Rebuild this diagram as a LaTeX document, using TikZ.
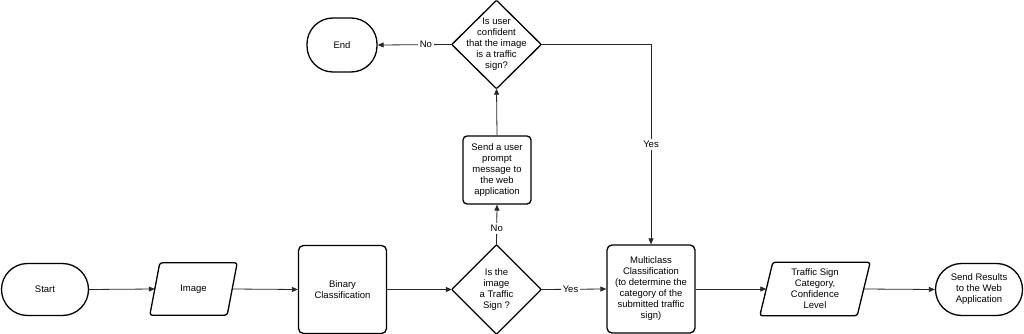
\documentclass[tikz,border=0pt]{standalone}
\usepackage{fontspec}
\setmainfont{Liberation Sans}
\usetikzlibrary{arrows.meta}
\begin{document}
\begin{tikzpicture}[x=1pt,y=1pt,
  font=\fontsize{9.5}{11}\selectfont,
  base/.style={align=center,inner sep=0pt},
  term/.style={base,draw,line width=1.3pt,rounded corners=26pt},
  proc/.style={base,draw,line width=1.3pt,rounded corners=5pt},
  ghost/.style={base},
  shp/.style={line width=1.3pt,line join=round,rounded corners=2.5pt},
  conn/.style={draw=black!85,line width=0.8pt,-{Triangle[length=6pt,width=5pt]}},
  lab/.style={fill=white,inner sep=2pt}]
\useasboundingbox (0,0) rectangle (1024,-334);
% nodes
\node[term,minimum width=87pt,minimum height=52pt] (start) at (45,-289.5) {Start};
\node[ghost,minimum width=77pt,minimum height=52pt] (img) at (193.5,-289) {Image};
\node[proc,minimum width=88pt,minimum height=88pt] (bin) at (342.5,-289.5) {Binary\\Classification};
\node[ghost,minimum width=89pt,minimum height=89pt] (d1) at (496.5,-289.5) {Is the\\image\\a Traffic\\Sign ?};
\node[proc,minimum width=88pt,minimum height=88pt] (multi) at (651,-289) {Multiclass\\Classification\\(to determine the\\category of the\\submitted traffic\\sign)};
\node[ghost,minimum width=97pt,minimum height=53pt] (cat) at (815,-289) {Traffic Sign\\Category,\\Confidence\\Level};
\node[term,minimum width=87pt,minimum height=52pt] (send) at (979,-289.5) {Send Results\\to the Web\\Application};
\node[proc,rounded corners=4pt,minimum width=68pt,minimum height=68pt] (prompt) at (497,-170) {Send a user\\prompt\\message to\\the web\\application};
\node[ghost,minimum width=89pt,minimum height=88pt] (d2) at (496.5,-44.5) {Is user\\confident\\that the image\\is a traffic\\sign?};
\node[term,minimum width=70pt,minimum height=54pt] (end) at (342,-45) {End};
% custom shapes
\draw[shp] ([xshift=5pt]img.north west) -- ([xshift=5pt]img.north east) -- ([xshift=-5pt]img.south east) -- ([xshift=-5pt]img.south west) -- cycle;
\draw[shp] ([xshift=6.5pt]cat.north west) -- ([xshift=6.5pt]cat.north east) -- ([xshift=-6.5pt]cat.south east) -- ([xshift=-6.5pt]cat.south west) -- cycle;
\draw[shp,rounded corners=1pt] (d1.north) -- (d1.east) -- (d1.south) -- (d1.west) -- cycle;
\draw[shp,rounded corners=1pt] (d2.north) -- (d2.east) -- (d2.south) -- (d2.west) -- cycle;
% connectors
\draw[conn] (start.east) -- (img.west);
\draw[conn] (img.east) -- (bin.west);
\draw[conn] (bin.east) -- (d1.west);
\draw[conn] (d1.east) -- node[lab,pos=0.45] {Yes} (multi.west);
\draw[conn] (d1.north) -- node[lab,pos=0.41] {No} (prompt.south);
\draw[conn] (prompt.north) -- (d2.south);
\draw[conn] (d2.west) -- node[lab,pos=0.35] {No} (end.east);
\draw[conn] (d2.east) -| node[lab,pos=0.75] {Yes} (multi.north);
\draw[conn] (multi.east) -- (cat.west);
\draw[conn] (cat.east) -- (send.west);
\end{tikzpicture}
\end{document}
